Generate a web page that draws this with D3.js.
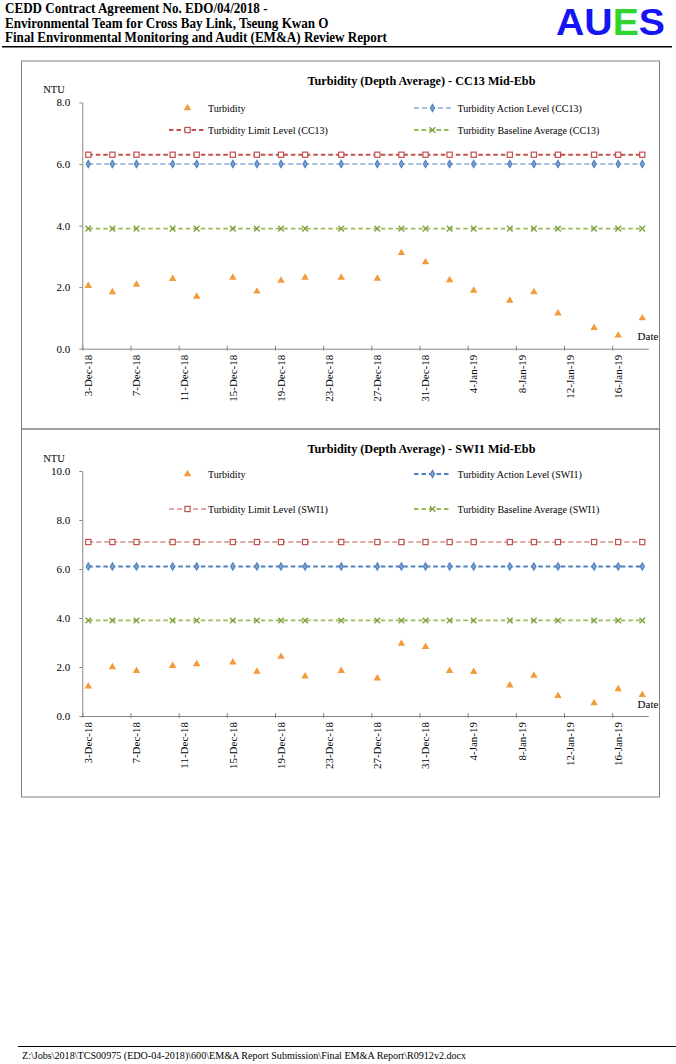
<!DOCTYPE html>
<html>
<head>
<meta charset="utf-8">
<script src="https://cdn.jsdelivr.net/npm/d3@7"></script>
<style>
  html, body { margin: 0; padding: 0; background: #fff; }
  svg { display: block; }
  text { font-family: "Liberation Serif", "Times New Roman", serif; fill: #000; }
  text.logo { font-family: "Liberation Sans", Arial, sans-serif; font-weight: bold; }
</style>
</head>
<body>
<svg id="page" width="676" height="1064"></svg>
<script>
// ---------------- DATA ----------------
const headerLines = [
  "CEDD Contract Agreement No. EDO/04/2018 -",
  "Environmental Team for Cross Bay Link, Tseung Kwan O",
  "Final Environmental Monitoring and Audit (EM&A) Review Report"
];
const footerText = "Z:\\Jobs\\2018\\TCS00975 (EDO-04-2018)\\600\\EM&A Report Submission\\Final EM&A Report\\R0912v2.docx";

const sampleDates = ["3-Dec-18","5-Dec-18","7-Dec-18","10-Dec-18","12-Dec-18","15-Dec-18","17-Dec-18",
  "19-Dec-18","21-Dec-18","24-Dec-18","27-Dec-18","29-Dec-18","31-Dec-18","2-Jan-19","4-Jan-19",
  "7-Jan-19","9-Jan-19","11-Jan-19","14-Jan-19","16-Jan-19","18-Jan-19"];
const xTickLabels = ["3-Dec-18","7-Dec-18","11-Dec-18","15-Dec-18","19-Dec-18","23-Dec-18",
  "27-Dec-18","31-Dec-18","4-Jan-19","8-Jan-19","12-Jan-19","16-Jan-19"];
const xDomain = ["3-Dec-18","19-Jan-19"];

const cc13Turbidity = [2.04,1.84,2.08,2.27,1.69,2.31,1.86,2.21,2.31,2.31,2.28,3.11,2.81,2.23,1.89,1.56,1.84,1.15,0.68,0.43,0.99];
const cc13Action = 6.0, cc13Limit = 6.3, cc13Baseline = 3.9;
const cc13YTicks = [0, 2, 4, 6, 8];

const swi1Turbidity = [1.21,2.00,1.84,2.05,2.12,2.19,1.81,2.42,1.62,1.84,1.54,2.95,2.82,1.84,1.80,1.25,1.65,0.82,0.53,1.10,0.86];
const swi1Action = 6.1, swi1Limit = 7.1, swi1Baseline = 3.9;
const swi1YTicks = [0, 2, 4, 6, 8, 10];

const COLORS = { turb: "#F39A3B", action: "#4F81BD", limit: "#C0504D", base: "#9BBB59", axis: "#868686" };

// ---------------- PAGE ----------------
const parse = d3.timeParse("%d-%b-%y");
const svg = d3.select("#page");

const hdr = svg.append("g");
const hdrText = hdr.append("g").attr("transform", "translate(5,0) scale(0.915,1)");
headerLines.forEach((t, i) => {
  hdrText.append("text").attr("x", 0).attr("y", 13.5 + i * 14.4)
    .attr("font-size", 14.3).attr("font-weight", "bold").text(t);
});
hdr.append("line").attr("x1", 2).attr("x2", 672).attr("y1", 46.8).attr("y2", 46.8)
  .attr("stroke", "#000").attr("stroke-width", 1.6);
const logo = hdr.append("text").attr("class", "logo").attr("x", 556).attr("y", 35)
  .attr("font-size", 37).attr("textLength", 109).attr("lengthAdjust", "spacingAndGlyphs");
logo.append("tspan").style("fill", "#1414F5").text("AU");
logo.append("tspan").style("fill", "#30D530").text("E");
logo.append("tspan").style("fill", "#1414F5").text("S");

svg.append("line").attr("x1", 18).attr("x2", 676).attr("y1", 1046.5).attr("y2", 1046.5)
  .attr("stroke", "#000").attr("stroke-width", 1.2);
svg.append("text").attr("x", 22).attr("y", 1059).attr("font-size", 10.1).text(footerText);

// ---------------- CHART ----------------
function drawChart(cfg) {
  const g = svg.append("g");
  g.append("rect").attr("x", 21.5).attr("y", cfg.boxTop).attr("width", 638).attr("height", 368)
    .attr("fill", "none").attr("stroke", "#808080").attr("stroke-width", 1);

  const x = d3.scaleTime().domain(xDomain.map(parse)).range([82.3, 648.3]);
  const y = d3.scaleLinear().domain([0, cfg.yMax]).range([cfg.y0, cfg.yTop]);
  const mid = s => d3.timeHour.offset(parse(s), 12);

  g.append("text").attr("x", 421.5).attr("y", cfg.titleY).attr("text-anchor", "middle")
    .attr("font-size", 12.2).attr("font-weight", "bold").text(cfg.title);

  const ya = g.append("g").attr("transform", "translate(82.3,0)")
    .call(d3.axisLeft(y).tickValues(cfg.yTicks).tickFormat(d3.format(".1f")).tickSize(3).tickSizeOuter(0).tickPadding(9));
  ya.select(".domain").attr("stroke", COLORS.axis);
  ya.selectAll(".tick line").attr("stroke", COLORS.axis);
  ya.selectAll("text").attr("font-size", 11).attr("fill", "#000");
  g.append("text").attr("x", 54).attr("y", cfg.ntuY).attr("text-anchor", "middle")
    .attr("font-size", 10.5).text("NTU");

  const xa = g.append("g").attr("transform", `translate(0,${cfg.y0})`)
    .call(d3.axisBottom(x).tickValues(xTickLabels.map(parse)).tickFormat("").tickSize(-4).tickSizeOuter(0));
  xa.select(".domain").attr("stroke", COLORS.axis);
  xa.selectAll(".tick line").attr("stroke", COLORS.axis).attr("y2", -3).attr("y1", 2);
  g.selectAll(".xlab").data(xTickLabels).join("text")
    .attr("transform", d => `translate(${x(mid(d)) + 3.8},${cfg.y0 + 6}) rotate(-90)`)
    .attr("text-anchor", "end").attr("font-size", 11).text(d => d);
  g.append("text").attr("x", 648).attr("y", cfg.y0 - 8.5).attr("text-anchor", "middle")
    .attr("font-size", 11).text("Date");

  const pts = sampleDates.map(mid);
  function levelLine(val, color, w) {
    g.append("path").datum(pts)
      .attr("d", d3.line().x(d => x(d)).y(() => y(val)))
      .attr("fill", "none").attr("stroke", color).attr("stroke-width", w)
      .attr("stroke-dasharray", w > 1.5 ? "4.5,3" : "5,3");
  }
  levelLine(cfg.limit, COLORS.limit, cfg.limitW);
  levelLine(cfg.action, COLORS.action, cfg.actionW);
  levelLine(cfg.base, COLORS.base, 1.8);

  const squareM = (sel, cx, cy) => sel.append("rect").attr("x", cx - 2.6).attr("y", cy - 2.6)
    .attr("width", 5.2).attr("height", 5.2).attr("fill", "#fff").attr("stroke", COLORS.limit).attr("stroke-width", 1.2);
  const diamondM = (sel, cx, cy) => sel.append("path").attr("d", d3.symbol(d3.symbolDiamond, 16)())
    .attr("transform", `translate(${cx},${cy})`).attr("fill", "#7C9FCE").attr("stroke", COLORS.action).attr("stroke-width", 1.1);
  const crossM = (sel, cx, cy) => sel.append("path")
    .attr("d", `M${cx-2.8},${cy-2.8}L${cx+2.8},${cy+2.8}M${cx-2.8},${cy+2.8}L${cx+2.8},${cy-2.8}`)
    .attr("stroke", "#7FA23F").attr("stroke-width", 1.4).attr("fill", "none");
  const triM = (sel, cx, cy) => sel.append("path").attr("d", d3.symbol(d3.symbolTriangle, 24)())
    .attr("transform", `translate(${cx},${cy})`).attr("fill", COLORS.turb);

  pts.forEach(p => {
    squareM(g, x(p), y(cfg.limit));
    diamondM(g, x(p), y(cfg.action));
    crossM(g, x(p), y(cfg.base));
  });
  cfg.turb.forEach((v, i) => triM(g, x(pts[i]), y(v)));

  // legend
  const L = g.append("g");
  const r1 = cfg.legY1, r2 = cfg.legY2;
  triM(L, 187.5, r1);
  L.append("text").attr("x", 208).attr("y", r1 + 3.5).attr("font-size", 10).text("Turbidity");

  function legLine(yy, x0, color, w) {
    L.append("line").attr("x1", x0).attr("x2", x0 + 37).attr("y1", yy).attr("y2", yy)
      .attr("stroke", color).attr("stroke-width", w).attr("stroke-dasharray", w > 1.5 ? "4.5,3" : "5,3");
  }
  legLine(r1, 414, COLORS.action, cfg.actionW);
  diamondM(L, 432.5, r1);
  L.append("text").attr("x", 457.5).attr("y", r1 + 3.5).attr("font-size", 10).text(cfg.actionLabel);

  legLine(r2, 169, COLORS.limit, cfg.limitW);
  squareM(L, 187.5, r2);
  L.append("text").attr("x", 208).attr("y", r2 + 3.5).attr("font-size", 10).text(cfg.limitLabel);

  legLine(r2, 414, COLORS.base, 1.8);
  crossM(L, 432.5, r2);
  L.append("text").attr("x", 457.5).attr("y", r2 + 3.5).attr("font-size", 10).text(cfg.baseLabel);
}

drawChart({
  boxTop: 61, title: "Turbidity (Depth Average) - CC13 Mid-Ebb", titleY: 85,
  yMax: 8, y0: 348.7, yTop: 102.4, yTicks: cc13YTicks, ntuY: 93.3,
  turb: cc13Turbidity, action: cc13Action, limit: cc13Limit, base: cc13Baseline,
  actionW: 1.1, limitW: 2,
  legY1: 108, legY2: 130,
  actionLabel: "Turbidity Action Level (CC13)", limitLabel: "Turbidity Limit Level (CC13)",
  baseLabel: "Turbidity Baseline Average (CC13)"
});

drawChart({
  boxTop: 429, title: "Turbidity (Depth Average) - SWI1 Mid-Ebb", titleY: 453,
  yMax: 10, y0: 716, yTop: 471, yTicks: swi1YTicks, ntuY: 462,
  turb: swi1Turbidity, action: swi1Action, limit: swi1Limit, base: swi1Baseline,
  actionW: 2, limitW: 1.1,
  legY1: 474, legY2: 509,
  actionLabel: "Turbidity Action Level (SWI1)", limitLabel: "Turbidity Limit Level (SWI1)",
  baseLabel: "Turbidity Baseline Average (SWI1)"
});
</script>
</body>
</html>
